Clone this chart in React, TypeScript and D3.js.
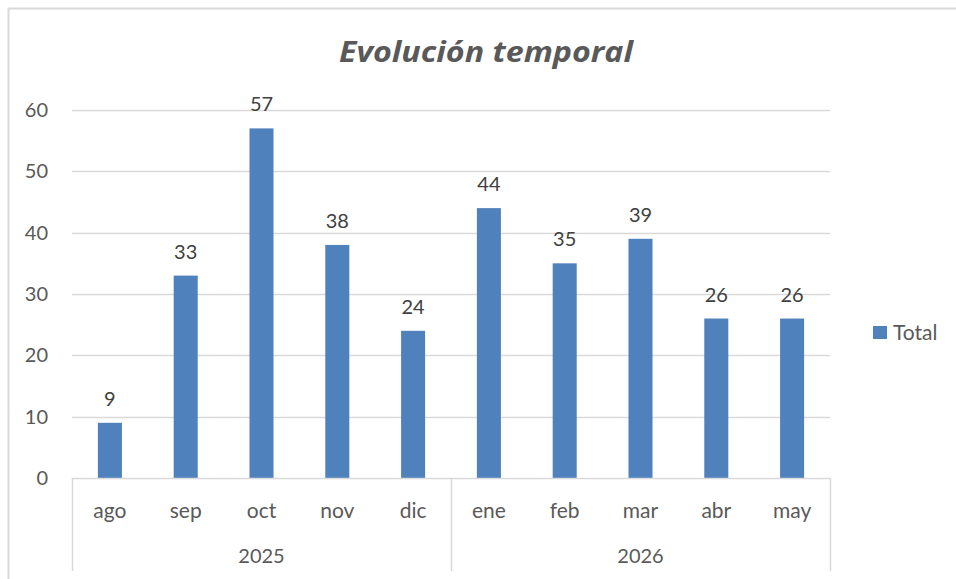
import React, { useRef, useEffect } from 'react';
import * as d3 from 'd3';

const months = ['ago', 'sep', 'oct', 'nov', 'dic', 'ene', 'feb', 'mar', 'abr', 'may'];
const years = ['2025', '2025', '2025', '2025', '2025', '2026', '2026', '2026', '2026', '2026'];
const totals = [9, 33, 57, 38, 24, 44, 35, 39, 26, 26];
const yTicks = [0, 10, 20, 30, 40, 50, 60];

export default function App() {
  const svgRef = useRef<SVGSVGElement>(null);

  useEffect(() => {
    const width = 956;
    const height = 579;
    const marginLeft = 72;
    const plotRight = 830;
    const plotTop = 110;
    const plotBottom = 478;
    const font = 'Lato, "Open Sans", sans-serif';
    const textColor = '#595959';
    const gridColor = '#d9d9d9';

    const svg = d3.select(svgRef.current)
      .attr('width', width)
      .attr('height', height)
      .attr('viewBox', [0, 0, width, height]);
    svg.selectAll('*').remove();

    // chart frame (only top/left visible in the picture)
    svg.append('rect')
      .attr('x', 8.5).attr('y', 8.5)
      .attr('width', width + 20).attr('height', height + 20)
      .attr('fill', 'white')
      .attr('stroke', gridColor)
      .attr('stroke-width', 2);

    const data = months.map((m, i) => ({ key: `${years[i]}-${m}`, month: m, year: years[i], value: totals[i] }));

    const x = d3.scaleBand()
      .domain(data.map(d => d.key))
      .range([marginLeft, plotRight])
      .paddingInner(0.683)
      .paddingOuter(0.3415);

    const y = d3.scaleLinear()
      .domain([0, 60])
      .range([plotBottom, plotTop]);

    // title
    svg.append('text')
      .attr('x', 486).attr('y', 62)
      .attr('text-anchor', 'middle')
      .attr('font-family', '"Open Sans", Lato, sans-serif')
      .attr('font-size', 29)
      .attr('font-weight', 'bold')
      .attr('font-style', 'italic')
      .attr('fill', textColor)
      .attr('textLength', 294)
      .attr('lengthAdjust', 'spacingAndGlyphs')
      .text('Evolución temporal');

    // gridlines
    svg.append('g')
      .selectAll('line')
      .data(yTicks.filter(t => t > 0))
      .join('line')
      .attr('x1', marginLeft).attr('x2', plotRight)
      .attr('y1', d => Math.round(y(d)) + 0.5)
      .attr('y2', d => Math.round(y(d)) + 0.5)
      .attr('stroke', gridColor)
      .attr('stroke-width', 1.5);

    // y tick labels
    svg.append('g')
      .selectAll('text')
      .data(yTicks)
      .join('text')
      .attr('x', 48)
      .attr('y', d => y(d) + 7)
      .attr('text-anchor', 'end')
      .attr('font-family', font)
      .attr('font-size', 20)
      .attr('fill', textColor)
      .text(d => d);

    // bars
    svg.append('g')
      .selectAll('rect')
      .data(data)
      .join('rect')
      .attr('x', d => x(d.key)!)
      .attr('y', d => y(d.value))
      .attr('width', x.bandwidth())
      .attr('height', d => y(0) - y(d.value))
      .attr('fill', '#4f81bd');

    // data labels
    svg.append('g')
      .selectAll('text')
      .data(data)
      .join('text')
      .attr('x', d => x(d.key)! + x.bandwidth() / 2)
      .attr('y', d => y(d.value) - 17)
      .attr('text-anchor', 'middle')
      .attr('font-family', font)
      .attr('font-size', 20)
      .attr('fill', '#404040')
      .text(d => d.value);

    // baseline
    svg.append('line')
      .attr('x1', marginLeft).attr('x2', plotRight)
      .attr('y1', plotBottom + 0.5).attr('y2', plotBottom + 0.5)
      .attr('stroke', gridColor)
      .attr('stroke-width', 1.5);

    // month labels
    svg.append('g')
      .selectAll('text')
      .data(data)
      .join('text')
      .attr('x', d => x(d.key)! + x.bandwidth() / 2)
      .attr('y', 518)
      .attr('text-anchor', 'middle')
      .attr('font-family', font)
      .attr('font-size', 21)
      .attr('fill', textColor)
      .text(d => d.month);

    // year groups
    const groups = d3.groups(data, d => d.year);
    const step = x.step();
    const bounds = groups.map(([year, items]) => {
      const first = x(items[0].key)! + x.bandwidth() / 2 - step / 2;
      const last = x(items[items.length - 1].key)! + x.bandwidth() / 2 + step / 2;
      return { year, x0: first, x1: last };
    });

    const seps = [bounds[0].x0, ...bounds.map(b => b.x1)];
    svg.append('g')
      .selectAll('line')
      .data(seps)
      .join('line')
      .attr('x1', d => Math.round(d) + 0.5).attr('x2', d => Math.round(d) + 0.5)
      .attr('y1', plotBottom).attr('y2', 571)
      .attr('stroke', gridColor)
      .attr('stroke-width', 1.5);

    svg.append('g')
      .selectAll('text')
      .data(bounds)
      .join('text')
      .attr('x', d => (d.x0 + d.x1) / 2)
      .attr('y', 563)
      .attr('text-anchor', 'middle')
      .attr('font-family', font)
      .attr('font-size', 20)
      .attr('fill', textColor)
      .text(d => d.year);

    // legend
    svg.append('rect')
      .attr('x', 873).attr('y', 326)
      .attr('width', 14).attr('height', 13)
      .attr('fill', '#4f81bd');
    svg.append('text')
      .attr('x', 893).attr('y', 340)
      .attr('font-family', font)
      .attr('font-size', 21)
      .attr('fill', textColor)
      .text('Total');
  }, []);

  return (
    <div style={{ position: 'absolute', left: 0, top: 0 }}>
      <svg ref={svgRef} style={{ display: 'block' }}></svg>
    </div>
  );
}
